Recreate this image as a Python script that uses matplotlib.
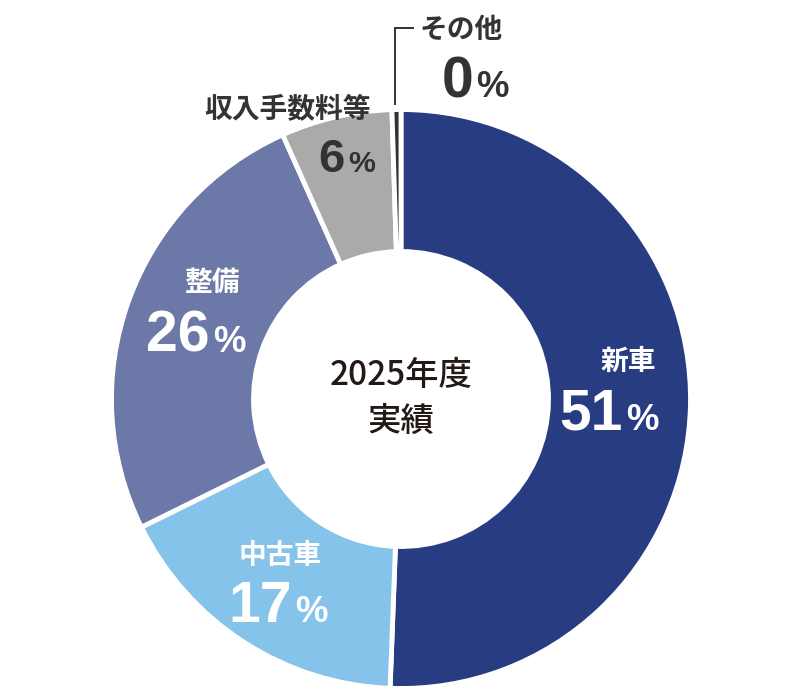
import matplotlib
matplotlib.use('Agg')
import matplotlib.pyplot as plt

# 2025年度 実績 の内訳
categories = ['新車', '中古車', '整備', '収入手数料等', 'その他']
shares = [50.6, 17.1, 25.6, 6.2, 0.5]
pct_labels = [51, 17, 26, 6, 0]
colors = ['#283c82', '#85c3eb', '#6b78a8', '#aaaaaa', '#333333']
center_text = ['2025年度', '実績']

W, H = 800, 700
fig = plt.figure(figsize=(8, 7), dpi=100)
ax = fig.add_axes([0, 0, 1, 1])
ax.set_xlim(0, W)
ax.set_ylim(0, H)
ax.set_aspect('equal')
ax.axis('off')

cx, cy = 401, H - 399
R = 289.5
ax.pie(shares, colors=colors, startangle=90, counterclock=False,
       center=(cx, cy), radius=R, frame=True,
       wedgeprops=dict(width=R - 147.5, edgecolor='white', linewidth=3.5))
ax.set_xlim(0, W)
ax.set_ylim(0, H)
ax.axis('off')

jp = ['Noto Sans CJK JP', 'DejaVu Sans']
num = ['Liberation Sans', 'DejaVu Sans']

def y(v):
    return H - v

# (name x, name y, number right x, baseline y, name size, number size, color)
layout = [
    (628, 362, 623, 430, 20, 41, 'white'),
    (280, 556, 292, 622, 20, 41, 'white'),
    (212, 283, 210, 352, 20, 41, 'white'),
    (288, 109, 345, 172, 20, 34, '#333333'),
    (461, 30, 473, 97, 20, 41, '#333333'),
]

for cat, pct, (nx, ny, rx, by, ns, ps, col) in zip(categories, pct_labels, layout):
    ax.text(nx, y(ny), cat, ha='center', va='center', fontsize=ns,
            fontweight='bold', color=col, family=jp)
    ax.text(rx, y(by), str(pct), ha='right', va='baseline', fontsize=ps,
            fontweight='bold', color=col, family=num)
    ax.text(rx + 3, y(by), '%', ha='left', va='baseline', fontsize=ps * 0.64,
            fontweight='bold', color=col, family=num)

# その他 の引き出し線
ax.plot([395, 395, 413], [y(104), y(28), y(28)], color='#333333', lw=1.4,
        solid_joinstyle='miter')

ax.text(cx, y(376), center_text[0], ha='center', va='center', fontsize=24,
        fontweight='medium', color='#231815', family=jp)
ax.text(cx, y(421), center_text[1], ha='center', va='center', fontsize=24,
        fontweight='medium', color='#231815', family=jp)

fig.savefig('out.png', dpi=100)
